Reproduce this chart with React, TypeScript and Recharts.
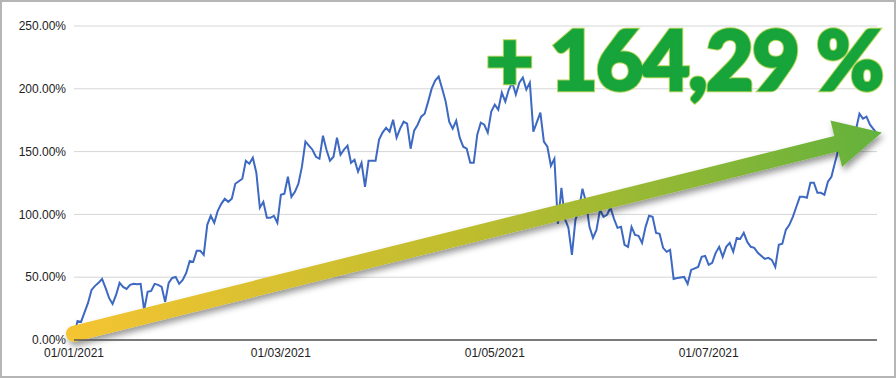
import React from 'react';
import { LineChart, Line, XAxis, YAxis, CartesianGrid, ReferenceLine } from 'recharts';

// days since 01/01/2021 and cumulative return in %
const days = [
  0, 1, 2, 4, 5, 6, 7, 8, 9, 10, 11, 12, 13, 14, 15, 16, 17, 18, 19, 20,
  21, 22, 23, 24, 25, 26, 27, 28, 29, 30, 31, 32, 33, 34, 35, 36, 37, 38, 39, 40,
  41, 42, 43, 44, 45, 46, 48, 49, 50, 51, 52, 53, 54, 55, 56, 57, 58, 59, 60, 61,
  62, 63, 64, 65, 66, 68, 69, 70, 71, 72, 73, 74, 75, 76, 77, 78, 79, 80, 81, 82,
  83, 84, 85, 86, 87, 88, 89, 90, 91, 92, 93, 94, 95, 96, 97, 98, 99, 100, 101, 102,
  103, 104, 105, 106, 107, 108, 109, 110, 111, 112, 113, 114, 115, 116, 117, 118, 119, 120, 121, 122,
  123, 124, 125, 126, 127, 128, 129, 130, 131, 133, 134, 135, 136, 137, 138, 139, 140, 141, 142, 143,
  144, 145, 146, 147, 148, 149, 150, 151, 152, 153, 154, 155, 156, 157, 158, 159, 160, 161, 162, 163,
  164, 165, 166, 167, 168, 169, 170, 171, 172, 174, 175, 176, 178, 179, 180, 181, 182, 183, 184, 185,
  186, 187, 188, 189, 190, 191, 192, 193, 194, 195, 197, 198, 199, 200, 201, 202, 203, 204, 205, 206,
  207, 208, 209, 210, 211, 212, 213, 214, 215, 216, 217, 218, 219, 221, 223, 224, 225, 226, 227, 229,
];

const values = [
  2.4, 15.2, 14.4, 29.5, 39.9, 43.1, 45.5, 48.6, 41.5, 33.5, 28.7, 35.9, 45.5, 42.3, 40.7, 43.9, 44.7, 44.3, 44.7, 23.9,
  38.3, 39.1, 44.7, 43.9, 42.3, 30.3, 45.5, 49.4, 50.2, 44.7, 47.8, 53.4, 63.0, 62.2, 71.0, 71.0, 67.8, 91.7, 98.9, 93.3,
  102.9, 108.4, 112.4, 110.0, 112.4, 124.4, 128.4, 142.7, 140.3, 145.1, 133.2, 105.3, 110.0, 97.3, 97.3, 98.9, 93.3, 115.6, 116.4, 130.0,
  114.0, 118.0, 124.4, 138.0, 157.9, 151.5, 145.9, 144.3, 162.7, 151.5, 142.7, 145.9, 161.1, 147.5, 151.5, 154.7, 141.1, 143.5, 134.0, 141.1,
  122.0, 142.7, 142.7, 142.7, 159.5, 165.1, 169.0, 165.9, 175.4, 161.1, 168.3, 173.8, 172.2, 152.3, 166.7, 171.4, 177.8, 180.2, 189.8, 200.1,
  206.5, 209.7, 200.1, 189.8, 173.8, 168.3, 174.6, 161.1, 153.9, 152.3, 141.1, 141.1, 163.5, 173.0, 171.4, 165.1, 181.8, 187.4, 183.4, 197.0,
  189.8, 199.4, 204.9, 195.4, 204.9, 208.9, 199.4, 204.9, 165.9, 181.0, 157.9, 153.9, 138.7, 144.3, 92.5, 121.2, 96.5, 89.3, 67.8, 95.7,
  103.7, 120.4, 110.0, 90.1, 81.3, 87.7, 103.7, 98.1, 99.7, 105.3, 96.5, 89.3, 90.1, 75.8, 74.2, 90.1, 83.7, 82.9, 77.3, 90.1,
  98.9, 98.1, 85.3, 84.5, 73.4, 70.2, 71.8, 48.6, 49.4, 50.2, 44.7, 55.8, 58.2, 66.2, 67.0, 59.8, 61.4, 69.4, 74.2, 66.2,
  74.2, 77.3, 70.2, 81.3, 80.5, 85.3, 78.1, 74.2, 73.4, 69.4, 64.6, 65.4, 63.8, 58.2, 75.8, 76.6, 87.7, 91.7, 98.1, 106.1,
  114.0, 114.0, 113.2, 125.2, 125.2, 117.2, 117.2, 115.6, 126.0, 130.0, 141.1, 151.5, 159.5, 163.5, 167.5, 180.2, 176.2, 177.8, 171.4, 164.29,
];

const tickDays = [0, 59, 120, 181];
const tickLabels = ['01/01/2021', '01/03/2021', '01/05/2021', '01/07/2021'];
const yTicks = [0, 50, 100, 150, 200, 250];
const headline = '+ 164,29 %';

const data = days.map((d, i) => ({ day: d, value: values[i] }));
const lastDay = days[days.length - 1];
const lastValue = values[values.length - 1];

const TrendArrow = (props: any) => {
  const { x1, y1, x2, y2 } = props;
  const len = Math.hypot(x2 - x1, y2 - y1);
  const ux = (x2 - x1) / len;
  const uy = (y2 - y1) / len;
  const nx = -uy;
  const ny = ux;
  const tipX = x2 + ux * 5;
  const tipY = y2 + uy * 5;
  const bx = tipX - ux * 47;
  const by = tipY - uy * 47;
  const sw = 8;
  const hw = 24;
  const pts = [
    [x1 + nx * sw, y1 + ny * sw],
    [bx + nx * sw, by + ny * sw],
    [bx + nx * hw, by + ny * hw],
    [tipX, tipY],
    [bx - nx * hw, by - ny * hw],
    [bx - nx * sw, by - ny * sw],
    [x1 - nx * sw, y1 - ny * sw],
  ]
    .map((p) => p.join(','))
    .join(' ');
  return (
    <g>
      <defs>
        <linearGradient id="arrowGrad" gradientUnits="userSpaceOnUse" x1={x1} y1={y1} x2={tipX} y2={tipY}>
          <stop offset="0%" stopColor="#f4c430" />
          <stop offset="50%" stopColor="#bcbd2f" />
          <stop offset="100%" stopColor="#63b23c" />
        </linearGradient>
        <filter id="arrowShadow" x="-5%" y="-30%" width="110%" height="160%">
          <feDropShadow dx="2" dy="4" stdDeviation="3" floodColor="#000" floodOpacity="0.4" />
        </filter>
      </defs>
      <g filter="url(#arrowShadow)">
        <polygon points={pts} fill="url(#arrowGrad)" />
        <circle cx={x1} cy={y1} r={sw} fill="#f4c430" />
      </g>
    </g>
  );
};

const headlineProps = {
  x: 486,
  y: 90,
  fontFamily: 'Lato, sans-serif',
  fontWeight: 900,
  fontSize: 82,
  letterSpacing: -1.5,
};

export default function App() {
  return (
    <div style={{ position: 'absolute', left: 0, top: 0, width: 896, height: 378, background: '#fff' }}>
      <LineChart width={896} height={378} data={data} margin={{ top: 26, right: 19, bottom: 8, left: 8 }}>
        <CartesianGrid vertical={false} stroke="#d6d6d6" />
        <XAxis
          dataKey="day"
          type="number"
          domain={[0, lastDay]}
          ticks={tickDays}
          interval={0}
          tickFormatter={(v: number) => tickLabels[tickDays.indexOf(v)]}
          tickLine={false}
          axisLine={{ stroke: '#555', strokeWidth: 1.5 }}
          height={30}
          tick={{ fill: '#222', fontSize: 12, fontFamily: '"Liberation Sans", Arial, sans-serif' }}
        />
        <YAxis
          domain={[0, 250]}
          ticks={yTicks}
          width={66}
          axisLine={false}
          tickLine={false}
          tickFormatter={(v: number) => v.toFixed(2) + '%'}
          tick={{ fill: '#222', fontSize: 12, fontFamily: '"Liberation Sans", Arial, sans-serif' }}
        />
        <Line type="linear" dataKey="value" stroke="#3d69c2" strokeWidth={2} dot={false} isAnimationActive={false} />
        <ReferenceLine
          segment={[{ x: 0, y: 5 }, { x: lastDay, y: lastValue }]}
          ifOverflow="visible"
          shape={TrendArrow}
        />
      </LineChart>
      <svg width={896} height={378} style={{ position: 'absolute', left: 0, top: 0, pointerEvents: 'none' }}>
        <text {...headlineProps} fill="#b3d65a" stroke="#b3d65a" strokeWidth={4.5} strokeLinejoin="miter">
          {headline}
        </text>
        <text {...headlineProps} fill="#17a43a" stroke="#17a43a" strokeWidth={2.5} strokeLinejoin="miter">
          {headline}
        </text>
      </svg>
      <div style={{ position: 'absolute', left: 0, top: 0, width: 896, height: 378, boxSizing: 'border-box', border: '2px solid #b5b5b5', pointerEvents: 'none' }} />
    </div>
  );
}
